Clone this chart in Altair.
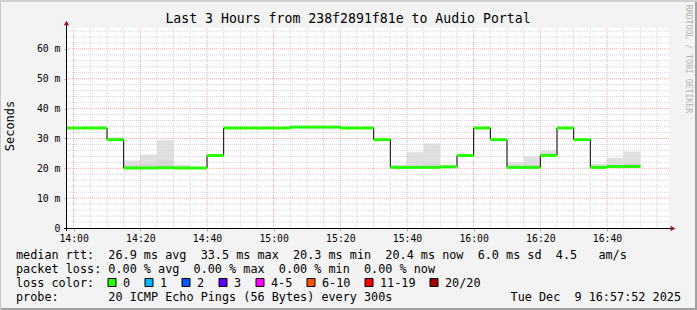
import altair as alt
import pandas as pd

# ---------------- data ----------------
bin_start = [-5, 0, 5, 10, 15, 20, 25, 30, 35, 40, 45, 50, 55, 60, 65, 70, 75, 80, 85,
             90, 95, 100, 105, 110, 115, 120, 125, 130, 135, 140, 145, 150, 155, 160, 165]
median = [33.5, 33.5, 33.5, 29.6, 20.1, 20.1, 20.2, 20.1, 20.1, 24.3, 33.5, 33.5, 33.5, 33.5,
          33.8, 33.8, 33.8, 33.5, 33.5, 29.6, 20.3, 20.3, 20.3, 20.5, 24.3, 33.5, 29.6, 20.3,
          20.3, 24.3, 33.5, 29.6, 20.3, 20.6, 20.6]
smoke_hi = [None, None, None, 30.4, 22.6, 24.6, 29.4, 21.2, None, None, None, None, None, None,
            None, None, None, None, None, None, 21.2, 25.4, 28.3, None, None, 33.8, None, 22.0,
            24.0, 26.0, None, None, 21.5, 23.5, 25.6]
smoke_mid = [None, None, None, None, 21.0, 21.5, 22.7, 20.6, None, None, None, None, None, None,
             None, None, None, None, None, None, None, 21.0, 21.6, None, None, None, None, 21.0,
             21.2, 25.0, None, None, None, 21.2, 21.8]

x_tick_values = [0, 20, 40, 60, 80, 100, 120, 140, 160]
x_tick_labels = ["14:00", "14:20", "14:40", "15:00", "15:20", "15:40", "16:00", "16:20", "16:40"]
y_tick_values = [0, 10, 20, 30, 40, 50, 60]
y_tick_labels = ["0", "10 m", "20 m", "30 m", "40 m", "50 m", "60 m"]

title_text = "Last 3 Hours from 238f2891f81e to Audio Portal"
y_title = "Seconds"
credit_text = "RRDTOOL / TOBI OETIKER"
line_rtt = "median rtt:  26.9 ms avg  33.5 ms max  20.3 ms min  20.4 ms now  6.0 ms sd  4.5   am/s"
line_loss = "packet loss: 0.00 % avg  0.00 % max  0.00 % min  0.00 % now"
line_color = "loss color:"
line_probe = "probe:       20 ICMP Echo Pings (56 Bytes) every 300s"
line_date = "Tue Dec  9 16:57:52 2025"
loss_labels = ["0", "1", "2", "3", "4-5", "6-10", "11-19", "20/20"]
loss_colors = ["#26ff00", "#00b8ff", "#0059ff", "#5e00ff", "#ff00ff", "#ff5500", "#ff0000", "#a10000"]

# ---------------- layout ----------------
W, H = 602, 200
PL, PT = 67, 28
MONO = "DejaVu Sans Mono"
XDOM = [-2, 178.6]
YDOM = [0, 67]

xs = alt.Scale(domain=XDOM, nice=False, zero=False)
ys = alt.Scale(domain=YDOM, nice=False, zero=False)

def lbl_expr(vals, labels):
    e = "''"
    for v, l in reversed(list(zip(vals, labels))):
        e = f"datum.value == {v} ? '{l}' : ({e})"
    return e

x_axis = alt.Axis(values=x_tick_values, labelExpr=lbl_expr(x_tick_values, x_tick_labels),
                  grid=False, domain=False, ticks=True, tickSize=3, tickColor="#b0b0b0",
                  labelFont=MONO, labelFontSize=9.8, labelColor="#000000", labelPadding=2,
                  title=None)
y_axis = alt.Axis(values=y_tick_values, labelExpr=lbl_expr(y_tick_values, y_tick_labels),
                  grid=False, domain=False, ticks=True, tickSize=3, tickColor="#b0b0b0",
                  labelFont=MONO, labelFontSize=9.8, labelColor="#000000", labelPadding=4,
                  title=None)

df = pd.DataFrame({"start": bin_start, "median": median, "hi": smoke_hi, "mid": smoke_mid})
df["end"] = df["start"] + 5

smoke_df = df.dropna(subset=["hi"])
mid_df = df.dropna(subset=["mid"])

smoke = alt.Chart(smoke_df).mark_rect(color="#e0e0e0", clip=True).encode(
    x=alt.X("start:Q", scale=xs, axis=x_axis), x2="end:Q",
    y=alt.Y("median:Q", scale=ys, axis=y_axis), y2="hi:Q")
smoke2 = alt.Chart(mid_df).mark_rect(color="#d6d6d6", clip=True).encode(
    x=alt.X("start:Q", scale=xs, axis=x_axis), x2="end:Q",
    y=alt.Y("median:Q", scale=ys, axis=y_axis), y2="mid:Q")

# grid
vminor = [m for m in range(5, 178, 5) if m % 20 != 0]
vmajor = list(range(0, 178, 20))
hminor = [v for v in range(2, 67, 2) if v % 10 != 0]
hmajor = list(range(10, 67, 10))
GMIN = "#d4d4d4"
GMAJ = "#f4a8a8"
g_vmin = alt.Chart(pd.DataFrame({"g": vminor})).mark_rule(color=GMIN, strokeDash=[1, 1], strokeWidth=1).encode(
    x=alt.X("g:Q", scale=xs, axis=x_axis))
g_hmin = alt.Chart(pd.DataFrame({"g": hminor})).mark_rule(color=GMIN, strokeDash=[1, 1], strokeWidth=1).encode(
    y=alt.Y("g:Q", scale=ys, axis=y_axis))
g_vmaj = alt.Chart(pd.DataFrame({"g": vmajor})).mark_rule(color=GMAJ, strokeDash=[1, 1], strokeWidth=1).encode(
    x=alt.X("g:Q", scale=xs, axis=x_axis))
g_hmaj = alt.Chart(pd.DataFrame({"g": hmajor})).mark_rule(color=GMAJ, strokeDash=[1, 1], strokeWidth=1).encode(
    y=alt.Y("g:Q", scale=ys, axis=y_axis))

# median black step line
line_df = pd.DataFrame({"t": bin_start + [bin_start[-1] + 5], "v": median + [median[-1]]})
step = alt.Chart(line_df).mark_line(interpolate="step-after", color="#000000", strokeWidth=1, clip=True).encode(
    x=alt.X("t:Q", scale=xs, axis=x_axis), y=alt.Y("v:Q", scale=ys, axis=y_axis))

green = alt.Chart(df).mark_rule(color=loss_colors[0], strokeWidth=3, strokeCap="butt", clip=True).encode(
    x=alt.X("start:Q", scale=xs, axis=x_axis), x2="end:Q", y=alt.Y("median:Q", scale=ys, axis=y_axis))

# axis lines & arrows
one = pd.DataFrame({"a": [0]})
xline = alt.Chart(one).mark_rule(color="#000000", strokeWidth=1).encode(
    x=alt.value(-3), x2=alt.value(W + 2), y=alt.value(H + 0.5))
yline = alt.Chart(one).mark_rule(color="#000000", strokeWidth=1).encode(
    x=alt.value(-0.5), y=alt.value(-3), y2=alt.value(H + 3))
arrow_up = alt.Chart(one).mark_point(shape="triangle-up", filled=True, color="#9a1c1c", size=30, opacity=1).encode(
    x=alt.value(-0.5), y=alt.value(-5))
arrow_right = alt.Chart(one).mark_point(shape="triangle-right", filled=True, color="#9a1c1c", size=30, opacity=1).encode(
    x=alt.value(W + 4), y=alt.value(H + 0.5))

def nb(s):
    return s.replace(" ", "\u00a0")

def txt(s, px, py, size, align="left", baseline="middle", angle=0, color="#000000"):
    return alt.Chart(pd.DataFrame({"t": [nb(s)]})).mark_text(
        font=MONO, fontSize=size, align=align, baseline=baseline, angle=angle, color=color).encode(
        text="t:N", x=alt.value(px - PL), y=alt.value(py - PT))

texts = [
    txt(title_text, 348, 19, 13.2, align="center"),
    txt(y_title, 10, 126, 12, align="center", angle=270),
    txt(credit_text, 688, 59, 8.2, align="center", angle=90, color="#b4b4b4"),
    txt(line_rtt, 16, 254.5, 11.8),
    txt(line_loss, 16, 268.5, 11.8),
    txt(line_color, 16, 282.5, 11.8),
    txt(line_probe, 16, 296.5, 11.8),
    txt(line_date, 681, 296.5, 11.8, align="right"),
]

# loss-colour legend boxes
bx = []
x = 108
for l in loss_labels:
    bx.append(x)
    x += 30 + 7 * len(l)
leg_df = pd.DataFrame({"label": loss_labels, "color": loss_colors,
                       "x0": [b - PL for b in bx], "x1": [b + 8 - PL for b in bx],
                       "tx": [b + 15 - PL for b in bx]})
leg_df["y0"] = 278.5 - PT
leg_df["y1"] = 286.5 - PT
leg_df["ty"] = 282.5 - PT
boxes = alt.Chart(leg_df).mark_rect(stroke="#000000", strokeWidth=1).encode(
    x=alt.X("x0:Q", scale=None, axis=None), x2="x1:Q",
    y=alt.Y("y0:Q", scale=None, axis=None), y2="y1:Q",
    color=alt.Color("color:N", scale=None, legend=None))
box_txt = alt.Chart(leg_df).mark_text(font=MONO, fontSize=11.8, align="left", baseline="middle", color="#000000").encode(
    x=alt.X("tx:Q", scale=None, axis=None), y=alt.Y("ty:Q", scale=None, axis=None), text="label:N")

# frame
fr = [
    alt.Chart(one).mark_rule(color="#a0a0a0", strokeWidth=2).encode(
        x=alt.value(697 - PL - 1), y=alt.value(-PT), y2=alt.value(310 - PT)),
    alt.Chart(one).mark_rule(color="#a0a0a0", strokeWidth=2).encode(
        x=alt.value(-PL), x2=alt.value(697 - PL), y=alt.value(310 - PT - 1)),
    alt.Chart(one).mark_rule(color="#cfcfcf", strokeWidth=2).encode(
        x=alt.value(-PL), x2=alt.value(697 - PL), y=alt.value(-PT + 1)),
    alt.Chart(one).mark_rule(color="#c8c8c8", strokeWidth=1).encode(
        x=alt.value(-PL + 0.5), y=alt.value(-PT), y2=alt.value(310 - PT)),
]

chart = alt.layer(
    smoke, smoke2, g_vmin, g_hmin, g_vmaj, g_hmaj, step, green,
    xline, yline, arrow_up, arrow_right, *texts, boxes, box_txt, *fr
).properties(
    width=W, height=H,
    autosize=alt.AutoSizeParams(type="none"),
    padding={"left": PL, "top": PT, "right": 697 - PL - W, "bottom": 310 - PT - H},
    background="#f3f3f3",
).configure_view(fill="#ffffff", stroke=None).configure_axis(labelFont=MONO)

chart.save("out.html", embed_options={"renderer": "svg", "actions": False})
